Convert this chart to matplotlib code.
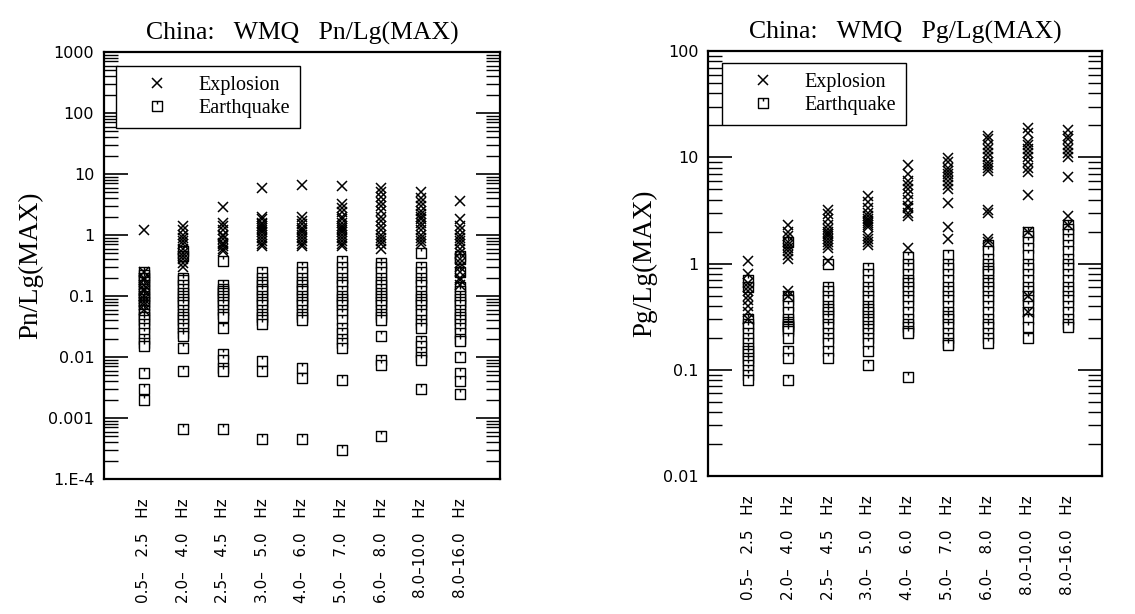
import matplotlib
matplotlib.use("Agg")
import matplotlib.pyplot as plt
from matplotlib.path import Path
from matplotlib.ticker import LogLocator, FixedLocator, NullFormatter, FixedFormatter

# ---------------- data ----------------
bands = ["0.5–   2.5   Hz", "2.0–   4.0   Hz", "2.5–   4.5   Hz", "3.0–   5.0   Hz",
         "4.0–   6.0   Hz", "5.0–   7.0   Hz", "6.0–   8.0   Hz", "8.0–10.0   Hz",
         "8.0–16.0   Hz"]

pn_explosion = [
    [1.2, 0.25, 0.2, 0.18, 0.15, 0.13, 0.12, 0.1, 0.09, 0.08, 0.07, 0.06],
    [1.4, 1.2, 1.0, 0.9, 0.8, 0.7, 0.6, 0.5, 0.45, 0.4, 0.35, 0.3],
    [2.9, 1.6, 1.4, 1.2, 1.0, 0.95, 0.85, 0.75, 0.7, 0.65, 0.6, 0.55],
    [6.0, 2.0, 1.8, 1.6, 1.5, 1.4, 1.3, 1.2, 1.1, 1.0, 0.9, 0.8, 0.7, 0.65],
    [6.5, 2.0, 1.7, 1.5, 1.3, 1.2, 1.1, 1.0, 0.9, 0.8, 0.7, 0.65],
    [6.3, 3.2, 2.8, 2.4, 2.0, 1.8, 1.6, 1.4, 1.3, 1.2, 1.1, 1.0, 0.9, 0.8, 0.7, 0.65],
    [6.0, 5.0, 4.2, 3.5, 3.0, 2.5, 2.0, 1.7, 1.4, 1.2, 1.0, 0.9, 0.8, 0.7, 0.6],
    [5.0, 4.0, 3.5, 3.0, 2.5, 2.2, 2.0, 1.8, 1.6, 1.4, 1.2, 1.0, 0.9, 0.8, 0.7],
    [3.6, 1.8, 1.4, 1.2, 1.0, 0.9, 0.8, 0.7, 0.6, 0.5, 0.4, 0.35, 0.3, 0.25, 0.2, 0.18, 0.15],
]
pn_earthquake = [
    [0.25, 0.22, 0.2, 0.17, 0.15, 0.13, 0.11, 0.1, 0.09, 0.08, 0.07, 0.06, 0.05, 0.045,
     0.04, 0.035, 0.03, 0.025, 0.02, 0.017, 0.015, 0.0055, 0.003, 0.002],
    [0.55, 0.45, 0.2, 0.18, 0.15, 0.13, 0.11, 0.1, 0.09, 0.08, 0.07, 0.06, 0.05, 0.045,
     0.04, 0.035, 0.03, 0.025, 0.022, 0.014, 0.006, 0.00065],
    [0.38, 0.15, 0.13, 0.12, 0.11, 0.1, 0.09, 0.08, 0.07, 0.06, 0.05, 0.045, 0.03,
     0.011, 0.009, 0.0065, 0.006, 0.00065],
    [0.25, 0.2, 0.17, 0.15, 0.13, 0.12, 0.1, 0.09, 0.08, 0.07, 0.06, 0.05, 0.045, 0.04,
     0.035, 0.0085, 0.006, 0.00045],
    [0.3, 0.25, 0.2, 0.17, 0.15, 0.13, 0.12, 0.1, 0.09, 0.08, 0.07, 0.06, 0.05, 0.045,
     0.04, 0.0065, 0.0045, 0.00045],
    [0.38, 0.3, 0.25, 0.2, 0.17, 0.15, 0.12, 0.1, 0.09, 0.08, 0.07, 0.06, 0.05, 0.04,
     0.03, 0.025, 0.02, 0.017, 0.014, 0.0042, 0.0003],
    [0.35, 0.3, 0.25, 0.2, 0.17, 0.15, 0.13, 0.11, 0.1, 0.09, 0.08, 0.07, 0.06, 0.05,
     0.045, 0.04, 0.022, 0.009, 0.0075, 0.0005],
    [0.5, 0.3, 0.25, 0.2, 0.17, 0.15, 0.12, 0.1, 0.09, 0.08, 0.07, 0.06, 0.05, 0.04,
     0.035, 0.03, 0.018, 0.015, 0.012, 0.01, 0.009, 0.003],
    [0.45, 0.4, 0.25, 0.14, 0.12, 0.1, 0.09, 0.08, 0.07, 0.06, 0.05, 0.045, 0.04, 0.035,
     0.03, 0.025, 0.02, 0.018, 0.01, 0.0055, 0.004, 0.0025],
]

pg_explosion = [
    [1.05, 0.8, 0.65, 0.6, 0.55, 0.5, 0.45, 0.4, 0.35, 0.3],
    [2.3, 2.0, 1.8, 1.6, 1.5, 1.4, 1.3, 1.2, 1.1, 0.55, 0.5],
    [3.2, 2.9, 2.6, 2.3, 2.1, 2.0, 1.9, 1.8, 1.7, 1.6, 1.5, 1.4, 1.05],
    [4.3, 3.8, 3.3, 3.0, 2.8, 2.6, 2.5, 2.4, 2.3, 2.2, 1.8, 1.7, 1.6, 1.5],
    [8.5, 7.0, 6.0, 5.5, 5.0, 4.5, 4.0, 3.5, 3.3, 3.0, 2.8, 1.4],
    [9.8, 9.0, 8.0, 7.5, 7.0, 6.5, 6.0, 5.5, 5.0, 3.7, 2.2, 1.7],
    [16, 15, 13, 12, 11, 10, 9, 8.5, 8, 7.5, 3.2, 3.0, 1.7, 1.6],
    [19, 17, 14, 13, 12, 11, 10, 9, 8, 7.2, 4.4, 2.0, 0.5, 0.35],
    [18, 16, 15, 13, 12, 11, 10, 6.5, 2.8, 2.3],
]
pg_earthquake = [
    [0.7, 0.6, 0.3, 0.27, 0.25, 0.22, 0.2, 0.18, 0.16, 0.15, 0.14, 0.13, 0.12, 0.11,
     0.1, 0.09, 0.08],
    [1.6, 0.5, 0.45, 0.4, 0.35, 0.3, 0.28, 0.27, 0.26, 0.25, 0.24, 0.23, 0.2, 0.15,
     0.13, 0.08],
    [1.0, 0.6, 0.55, 0.5, 0.45, 0.4, 0.37, 0.35, 0.32, 0.3, 0.27, 0.25, 0.22, 0.2,
     0.18, 0.15, 0.13],
    [0.9, 0.8, 0.7, 0.6, 0.55, 0.5, 0.45, 0.4, 0.37, 0.35, 0.32, 0.3, 0.28, 0.26,
     0.24, 0.22, 0.2, 0.18, 0.15, 0.11],
    [1.15, 1.0, 0.9, 0.8, 0.7, 0.65, 0.6, 0.55, 0.5, 0.45, 0.4, 0.35, 0.3, 0.27, 0.25,
     0.23, 0.22, 0.085],
    [1.2, 1.0, 0.9, 0.8, 0.7, 0.6, 0.55, 0.5, 0.45, 0.4, 0.35, 0.32, 0.3, 0.27, 0.25,
     0.22, 0.2, 0.18, 0.17],
    [1.5, 1.3, 1.1, 1.0, 0.9, 0.85, 0.8, 0.7, 0.65, 0.6, 0.55, 0.5, 0.45, 0.4, 0.35,
     0.3, 0.27, 0.25, 0.22, 0.2, 0.18],
    [2.0, 1.8, 1.6, 1.4, 1.2, 1.0, 0.9, 0.8, 0.7, 0.6, 0.55, 0.5, 0.45, 0.4, 0.35,
     0.3, 0.25, 0.2],
    [2.3, 2.1, 1.9, 1.7, 1.5, 1.3, 1.1, 1.0, 0.9, 0.8, 0.7, 0.6, 0.55, 0.5, 0.45, 0.4,
     0.35, 0.3, 0.27, 0.25],
]

pn_yticks = [1e-4, 1e-3, 1e-2, 1e-1, 1, 10, 100, 1000]
pn_ylabels = ["1.E-4", "0.001", "0.01", "0.1", "1", "10", "100", "1000"]
pg_yticks = [0.01, 0.1, 1, 10, 100]
pg_ylabels = ["0.01", "0.1", "1", "10", "100"]

# ---------------- styling ----------------
SERIF = ["Liberation Serif", "DejaVu Serif"]
SANS = ["DejaVu Sans"]

box_marker = Path(
    [(-1, -1), (1, -1), (1, 1), (-1, 1), (-1, -1), (0, 1), (0, 0.4)],
    [Path.MOVETO, Path.LINETO, Path.LINETO, Path.LINETO, Path.CLOSEPOLY,
     Path.MOVETO, Path.LINETO])

fig = plt.figure(figsize=(11.35, 6.14), dpi=100)
ax1 = fig.add_axes([0.0916, 0.2199, 0.3489, 0.6954])
ax2 = fig.add_axes([0.6238, 0.2248, 0.3471, 0.6920])


def draw(ax, expl, eq, ylim, yticks, ylabels, title, ylabel, xmax, legend_anchor):
    for i, (ex, qk) in enumerate(zip(expl, eq)):
        xpos = i + 1
        ax.plot([xpos] * len(qk), qk, linestyle="none", marker=box_marker,
                ms=7.5, mfc="white", mec="black", mew=1.0,
                label="Earthquake" if i == 0 else None, zorder=2)
        ax.plot([xpos] * len(ex), ex, linestyle="none", marker="x",
                ms=7, mec="black", mew=1.1,
                label="Explosion" if i == 0 else None, zorder=3)
    ax.set_yscale("log")
    ax.set_ylim(*ylim)
    ax.set_xlim(0, xmax)
    ax.yaxis.set_major_locator(FixedLocator(yticks))
    ax.yaxis.set_major_formatter(FixedFormatter(ylabels))
    ax.yaxis.set_minor_locator(LogLocator(base=10, subs=range(2, 10), numticks=20))
    ax.yaxis.set_minor_formatter(NullFormatter())
    ax.tick_params(axis="y", which="major", direction="in", length=17, width=1.2,
                   left=True, right=True, labelsize=11.5, pad=7)
    ax.tick_params(axis="y", which="minor", direction="in", length=10, width=1.0,
                   left=True, right=True)
    for lab in ax.get_yticklabels():
        lab.set_family(SANS)
    ax.set_xticks(range(1, len(bands) + 1))
    ax.set_xticklabels(bands, rotation=90, family=SANS, fontsize=11)
    ax.tick_params(axis="x", which="both", length=0, pad=14)
    for s in ax.spines.values():
        s.set_linewidth(1.6)
    ax.set_title(title, family=SERIF, fontsize=18.5, pad=9)
    ax.set_ylabel(ylabel, family=SERIF, fontsize=19.5, labelpad=4)
    h, l = ax.get_legend_handles_labels()
    order = [l.index("Explosion"), l.index("Earthquake")]
    leg = ax.legend([h[k] for k in order], [l[k] for k in order],
                    loc="upper left", bbox_to_anchor=legend_anchor,
                    borderaxespad=0,
                    prop={"family": SERIF, "size": 14.5}, frameon=True,
                    fancybox=False, edgecolor="black", framealpha=1,
                    handletextpad=0.5, borderpad=0.5, labelspacing=0.2,
                    handlelength=3.1)
    leg.get_frame().set_linewidth(1.0)


draw(ax1, pn_explosion, pn_earthquake, (1e-4, 1000), pn_yticks, pn_ylabels,
     "China:   WMQ   Pn/Lg(MAX)", "Pn/Lg(MAX)", 10.0, (0.03, 0.967))
draw(ax2, pg_explosion, pg_earthquake, (0.01, 100), pg_yticks, pg_ylabels,
     "China:   WMQ   Pg/Lg(MAX)", "Pg/Lg(MAX)", 9.85, (0.036, 0.972))

fig.savefig("out.png", dpi=100)
